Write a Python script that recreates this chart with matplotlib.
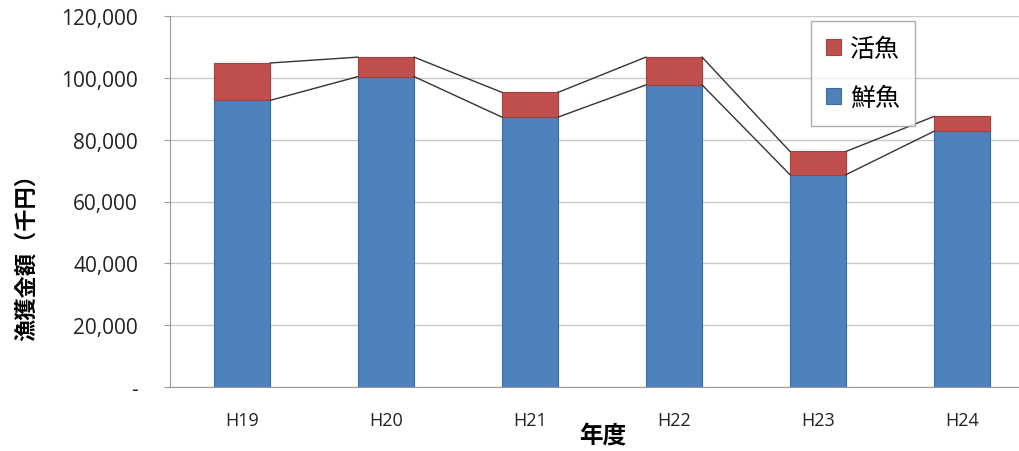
import matplotlib
matplotlib.use("Agg")
import matplotlib.pyplot as plt
from matplotlib.ticker import FuncFormatter

years = ["H19", "H20", "H21", "H22", "H23", "H24"]
fresh = [92700, 100400, 87300, 97700, 68700, 82700]      # 鮮魚
live_total = [104800, 106700, 95300, 106700, 76200, 87500]  # 鮮魚+活魚
live = [t - f for t, f in zip(live_total, fresh)]          # 活魚

plt.rcParams['font.family'] = ['Noto Sans CJK JP', 'DejaVu Sans']

fig = plt.figure(figsize=(10.2, 4.52), dpi=100)
ax = fig.add_axes([170 / 1020, 1 - 388 / 452, 864 / 1020, 371 / 452])

x = list(range(len(years)))
w = 0.39
blue = "#4F81BD"
red = "#C0504D"
ax.bar(x, fresh, width=w, color=blue, edgecolor="#3f6a9e", linewidth=0.8,
       label="鮮魚", zorder=3)
ax.bar(x, live, width=w, bottom=fresh, color=red, edgecolor="#a04340",
       linewidth=0.8, label="活魚", zorder=3)

# series lines joining the stacked levels of neighbouring bars
for level in (fresh, live_total):
    for i in range(len(x) - 1):
        ax.plot([x[i] + w / 2, x[i + 1] - w / 2], [level[i], level[i + 1]],
                color="#333333", linewidth=1.0, zorder=4)

ax.set_xlim(-0.5, len(years) - 0.5)
ax.set_ylim(0, 120000)
ax.set_yticks(range(0, 120001, 20000))
ax.yaxis.set_major_formatter(FuncFormatter(lambda v, p: "-" if v == 0 else f"{int(v):,}"))
ax.grid(axis="y", color="#c8c8c8", linewidth=1.0, zorder=0)
ax.set_xticks(x)
ax.set_xticklabels(years)

for s in ("top", "right"):
    ax.spines[s].set_visible(False)
for s in ("left", "bottom"):
    ax.spines[s].set_color("#9a9a9a")
ax.tick_params(axis="y", length=4, color="#9a9a9a", labelsize=15, pad=19,
               labelcolor="#222222")
ax.tick_params(axis="x", length=0, labelsize=13, pad=17, labelcolor="#222222")
for lab in ax.get_yticklabels() + ax.get_xticklabels():
    lab.set_family(['Open Sans', 'DejaVu Sans'])

ax.set_ylabel("漁獲金額（千円）", fontsize=16, fontweight="bold")
ax.set_xlabel("年度", fontsize=17, fontweight="bold")
ax.xaxis.set_label_coords((603 - 170) / 864, -(436 - 388) / 371)
ax.yaxis.set_label_coords(-(170 - 26) / 864, (388 - 252) / 371)
ax.xaxis.label.set_va("center")
ax.yaxis.label.set_va("center")

handles, labels = ax.get_legend_handles_labels()
leg = ax.legend(handles[::-1], labels[::-1], loc="upper left",
                bbox_to_anchor=((811 - 170) / 864, 1 + (17 - 22) / 371),
                fontsize=18, frameon=True, fancybox=False, edgecolor="#9a9a9a",
                handlelength=0.6, handleheight=0.6, handletextpad=0.35,
                labelspacing=0.9, borderpad=0.6, borderaxespad=0)
leg.get_frame().set_linewidth(1.0)

fig.savefig("out.png", dpi=100)
